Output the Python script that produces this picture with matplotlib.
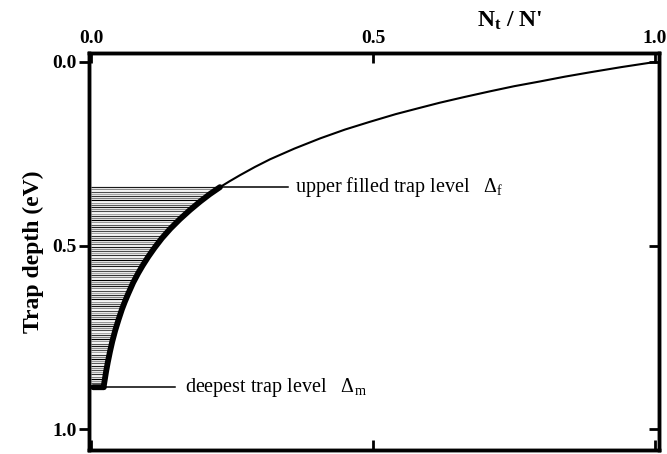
import numpy as np
import matplotlib
import matplotlib.pyplot as plt
matplotlib.use('agg')

plt.rcParams['font.family'] = ['Liberation Serif', 'DejaVu Serif']
plt.rcParams['mathtext.fontset'] = 'custom'
plt.rcParams['mathtext.rm'] = 'Liberation Serif'
plt.rcParams['mathtext.it'] = 'Liberation Serif'
plt.rcParams['mathtext.bf'] = 'Liberation Serif:bold'

# occupancy curve N_t/N' versus trap depth (eV), shallow to deep
frac = [1.000, 0.940, 0.885, 0.840, 0.796, 0.750, 0.707, 0.660, 0.618, 0.580,
        0.540, 0.494, 0.450, 0.406, 0.360, 0.317, 0.290, 0.264, 0.245, 0.228,
        0.210, 0.193, 0.175, 0.157, 0.140, 0.125, 0.112, 0.101, 0.091, 0.083,
        0.074, 0.065, 0.059, 0.054, 0.048, 0.042, 0.037, 0.033, 0.029, 0.026,
        0.024, 0.022]
depth = [0.000, 0.014, 0.028, 0.040, 0.053, 0.066, 0.080, 0.096, 0.111, 0.126,
         0.142, 0.163, 0.184, 0.208, 0.236, 0.265, 0.286, 0.308, 0.325, 0.341,
         0.360, 0.380, 0.403, 0.428, 0.454, 0.480, 0.506, 0.530, 0.554, 0.575,
         0.601, 0.632, 0.654, 0.674, 0.702, 0.732, 0.761, 0.788, 0.818, 0.843,
         0.862, 0.881]

fill_top = 0.341     # upper filled trap level
fill_bottom = 0.886  # deepest trap level
foot_x = 0.003       # left end of the deepest-level bar

x_ticks = [0.0, 0.5, 1.0]
y_ticks = [0.0, 0.5, 1.0]

fig = plt.figure(figsize=(6.67, 4.54), dpi=100)
ax = fig.add_axes([0.1334, 0.0088, 0.8546, 0.8745])

frac = np.array(frac)
depth = np.array(depth)

# horizontal hatching for the filled traps
grays = ['0.1', '0.55', '0.3', '0.65', '0.2', '0.5', '0.0', '0.6', '0.35']
levels = np.arange(fill_top, fill_bottom, 0.006)
for i, lv in enumerate(levels):
    xr = np.interp(lv, depth, frac)
    ax.plot([0.0, xr], [lv, lv], color=grays[i % len(grays)], lw=0.85,
            solid_capstyle='butt', zorder=1)

# thin part of the curve (empty traps)
thin = depth <= fill_top + 1e-9
ax.plot(frac[thin], depth[thin], color='black', lw=1.5, zorder=3)

# thick part of the curve (filled traps) with its foot
thick = depth >= fill_top - 1e-9
ax.plot(list(frac[thick]) + [frac[-1], foot_x],
        list(depth[thick]) + [fill_bottom, fill_bottom],
        color='black', lw=4.2, solid_capstyle='round',
        solid_joinstyle='round', zorder=3)

# leader lines and labels
x_top = np.interp(fill_top, depth, frac)
ax.plot([x_top, 0.349], [fill_top, fill_top], color='black', lw=1.1, zorder=2)
ax.text(0.361, fill_top, r"upper filled trap level   $\Delta_\mathrm{f}$",
        fontsize=14.5, va='center', ha='left')

x_bot = frac[-1]
ax.plot([x_bot, 0.148], [fill_bottom, fill_bottom], color='black', lw=1.1,
        zorder=2)
ax.text(0.166, fill_bottom, r"deepest trap level   $\Delta_\mathrm{m}$",
        fontsize=14.5, va='center', ha='left')

ax.set_xlim(-0.0044, 1.007)
ax.set_ylim(1.057, -0.0245)

ax.xaxis.tick_top()
ax.xaxis.set_label_position('top')
ax.set_xticks(x_ticks)
ax.set_xticklabels([f'{v:.1f}' for v in x_ticks], fontweight='bold',
                   fontsize=14)
ax.set_yticks(y_ticks)
ax.set_yticklabels([f'{v:.1f}' for v in y_ticks], fontweight='bold',
                   fontsize=14)
ax.tick_params(axis='x', which='both', top=True, bottom=True,
               direction='in', length=7, width=2, pad=4)
ax.tick_params(axis='y', which='both', left=True, right=False,
               direction='out', length=7, width=2, pad=2)

# inward ticks on the right side
ax2 = ax.twinx()
ax2.set_ylim(ax.get_ylim())
ax2.set_yticks(y_ticks)
ax2.set_yticklabels([])
ax2.tick_params(axis='y', direction='in', length=7, width=2)

for a in (ax, ax2):
    for s in a.spines.values():
        s.set_linewidth(2.5)

ax.set_ylabel('Trap depth (eV)', fontsize=17, fontweight='bold', labelpad=6)
fig.text(0.765, 0.955, r"N$_\mathbf{t}$ / N'", fontsize=17,
         fontweight='bold', ha='center', va='center')

fig.savefig('out.png', dpi=100)
plt.close(fig)
